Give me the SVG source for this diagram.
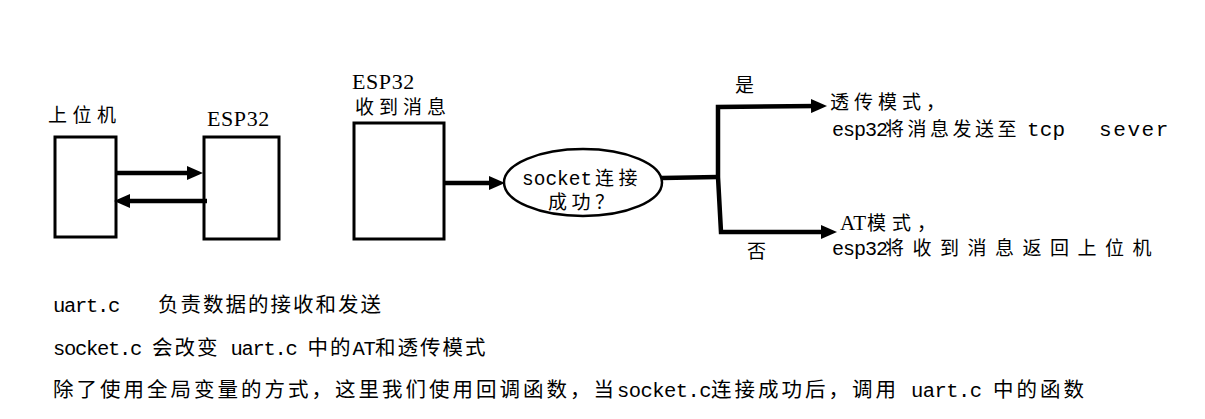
<svg xmlns="http://www.w3.org/2000/svg" width="1205" height="419" viewBox="0 0 1205 419">
<style>
text{fill:#000;font-family:"Liberation Mono","Noto Sans CJK SC",monospace}
.c{font-family:"Noto Sans CJK SC","Noto Sans CJK JP",sans-serif}
.l{font-family:"Liberation Mono",monospace}
.s{font-family:"Liberation Serif",serif}
.box{fill:#fff;stroke:#000;stroke-width:3}
.ell{fill:#fff;stroke:#000;stroke-width:2.5}
.conn{fill:none;stroke:#000;stroke-width:4.5;stroke-linejoin:miter}
.d{font-size:19px}
.b{font-size:20.5px}
.bl{font-size:20.5px}
</style>
<defs>
<marker id="ah" viewBox="0 0 16 14" refX="6" refY="7" markerWidth="16" markerHeight="14" markerUnits="userSpaceOnUse" orient="auto">
<path d="M0,0 L16,7 L0,14 Z" fill="#000"/>
</marker>
</defs>
<rect width="1205" height="419" fill="#fff"/>

<g id="host">
<rect class="box" x="55" y="137" width="61" height="100"/>
<text class="c d" x="48" y="121.5" letter-spacing="5.5">上位机</text>
</g>

<g id="esp32">
<rect class="box" x="204" y="137" width="75" height="102"/>
<text class="s" font-size="22" x="207" y="126" letter-spacing="0.6">ESP32</text>
</g>

<g id="esp32-recv">
<rect class="box" x="354" y="123" width="90" height="116"/>
<text><tspan class="s" font-size="22" x="352" y="89" letter-spacing="0.6">ESP32</tspan><tspan class="c d" x="355" y="114" letter-spacing="5">收到消息</tspan></text>
</g>

<g id="decision">
<ellipse class="ell" cx="583" cy="182.5" rx="79" ry="33.5"/>
<text><tspan class="l" font-size="19.5" x="522" y="184.5">socket</tspan><tspan class="c d" x="595" y="184.5" letter-spacing="4.5">连接</tspan><tspan class="c d" x="548" y="208.5" letter-spacing="4.5">成功？</tspan></text>
</g>

<g id="transparent-mode">
<text><tspan class="c d" x="830" y="109" letter-spacing="5">透传模式，</tspan><tspan class="l" font-size="20" letter-spacing="-1" x="832" y="136">esp32</tspan><tspan class="c d" letter-spacing="3.5" x="885" y="136">将消息发送至</tspan><tspan class="l" font-size="21" letter-spacing="0.2" x="1027" y="136">tcp</tspan><tspan class="l" font-size="21" letter-spacing="1.6" x="1099" y="136">sever</tspan></text>
</g>

<g id="at-mode">
<text><tspan class="s" font-size="21" letter-spacing="0.5" x="840" y="230">AT</tspan><tspan class="c d" letter-spacing="6" x="867" y="230">模式，</tspan><tspan class="l" font-size="20" letter-spacing="-1" x="832" y="255">esp32</tspan><tspan class="c d" letter-spacing="8.5" x="885" y="255">将收到消息返回上位机</tspan></text>
</g>

<g id="connectors">
<line class="conn" x1="117" y1="173" x2="193" y2="173" marker-end="url(#ah)"/>
<line class="conn" x1="207" y1="201" x2="124" y2="201" marker-end="url(#ah)"/>
<line class="conn" x1="445" y1="183" x2="495" y2="183" marker-end="url(#ah)"/>
<path class="conn" d="M662,178 L718,177"/>
<path class="conn" d="M718,177 L718,107 L817,106" marker-end="url(#ah)"/>
<path class="conn" d="M718,177 L721,232 L827,232" marker-end="url(#ah)"/>
<text class="c d" x="735" y="91.5">是</text>
<text class="c d" x="747" y="257.5">否</text>
</g>

<g id="notes">
<text y="312"><tspan class="l bl" x="53" letter-spacing="-1.3">uart.c</tspan><tspan class="c b" x="158" letter-spacing="2">负责数据的接收和发送</tspan></text>
<text y="355"><tspan class="l bl" x="53" letter-spacing="-1.3">socket.c</tspan><tspan class="c b" x="152" letter-spacing="2">会改变</tspan><tspan class="l bl" x="230.5" letter-spacing="-1.3">uart.c</tspan><tspan class="c b" x="307.5" letter-spacing="2">中的</tspan><tspan class="l bl" x="352.5" letter-spacing="-1.3">AT</tspan><tspan class="c b" x="375" letter-spacing="2">和透传模式</tspan></text>
<text y="397"><tspan class="c b" x="53" letter-spacing="3">除了使用全局变量的方式，</tspan><tspan class="c b" x="335" letter-spacing="3">这里我们使用回调函数，</tspan><tspan class="c b" x="593.5">当</tspan><tspan class="l bl" x="617" letter-spacing="-0.55">socket.c</tspan><tspan class="c b" x="711" letter-spacing="3">连接成功后，</tspan><tspan class="c b" x="852" letter-spacing="3">调用</tspan><tspan class="l bl" x="911" letter-spacing="-0.55">uart.c</tspan><tspan class="c b" x="993" letter-spacing="3">中的函数</tspan></text>
</g>
</svg>
